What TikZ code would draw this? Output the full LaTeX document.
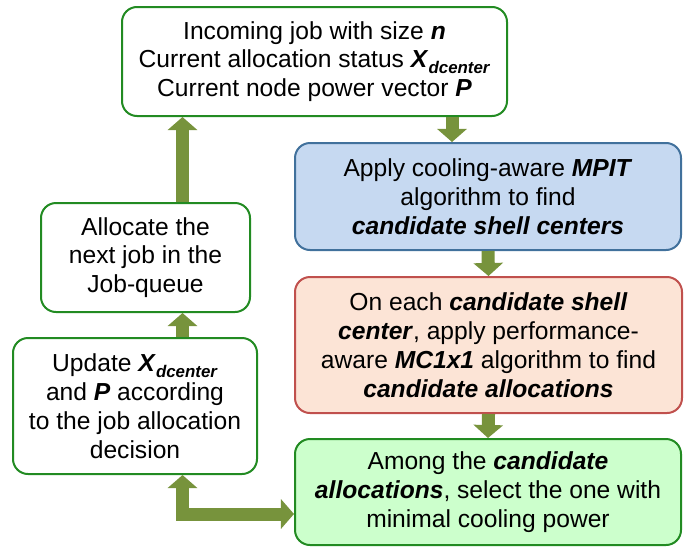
\documentclass[tikz,border=0pt]{standalone}
\usepackage{fontspec}
\setmainfont{Liberation Sans}
\usetikzlibrary{positioning}
\usetikzlibrary{arrows.meta}

\definecolor{boxgreen}{RGB}{34,139,34}
\definecolor{shaftgreen}{RGB}{119,147,60}
\definecolor{mpitfill}{RGB}{198,217,241}
\definecolor{mpitline}{RGB}{65,113,156}
\definecolor{mcfill}{RGB}{252,228,214}
\definecolor{mcline}{RGB}{192,80,77}
\definecolor{selfill}{RGB}{204,255,204}

\newlength{\px}
\setlength{\px}{0.025cm}
\newcommand{\bi}[1]{\textbf{\textit{#1}}}
\newcommand{\dsub}{\raisebox{-0.45ex}{\fontsize{12}{12}\selectfont\bi{dcenter}}}

\tikzset{
	stepbox/.style={draw=boxgreen, fill=white, line width=2\px, rounded corners=15\px, align=center, inner sep=0pt, font=\fontsize{17.5}{20.5}\selectfont},
	fat/.style={draw=shaftgreen, line width=9.25pt, line join=miter, -{Triangle[width=20.6pt,length=9.25pt]}},
}

\begin{document}
\begin{tikzpicture}[x=1\px, y=-1\px]
\useasboundingbox (0,0) rectangle (694,546);

%boxes
\node[stepbox, minimum width=385\px, minimum height=109\px] (job) at (314.5,61.5)
	{Incoming job with size \bi{n}\\ Current allocation status \bi{X}\dsub\\ Current node power vector \bi{P}};
\node[stepbox, draw=mpitline, fill=mpitfill, minimum width=386\px, minimum height=107\px] (mpit) at (488,196.5)
	{Apply cooling-aware \bi{MPIT}\\ algorithm to find\\ \bi{candidate shell centers}};
\node[stepbox, draw=mcline, fill=mcfill, minimum width=387\px, minimum height=136\px] (mc) at (488.5,345)
	{On each \bi{candidate shell}\\ \bi{center}, apply performance-\\ aware \bi{MC1x1} algorithm to find\\ \bi{candidate allocations}};
\node[stepbox, fill=selfill, minimum width=386\px, minimum height=106\px] (sel) at (488,492)
	{Among the \bi{candidate}\\ \bi{allocations}, select the one with\\ minimal cooling power};
\node[stepbox, minimum width=209\px, minimum height=109\px] (alloc) at (145.5,257.5)
	{Allocate the\\ next job in the\\ Job-queue};
\node[stepbox, minimum width=244\px, minimum height=136\px] (upd) at (135,406)
	{Update \bi{X}\dsub\\ and \bi{P} according\\ to the job allocation\\ decision};

%arrows
\coordinate (downcol) at (452,0);
\coordinate (upcol) at (182.5,0);
\coordinate (bend) at (182.5,514);
\draw[fat] (job.south -| downcol) -- (mpit.north -| downcol);
\draw[fat] (mpit.south) -- (mc.north);
\draw[fat] (mc.south) -- (sel.north);
\draw[fat] (upd.north -| upcol) -- (alloc.south -| upcol);
\draw[fat] (alloc.north -| upcol) -- (job.south -| upcol);
\draw[fat, {Triangle[width=20.6pt,length=9.25pt]}-{Triangle[width=20.6pt,length=9.25pt]}] (upd.south -| bend) -- (bend) -- (bend -| sel.west);

\end{tikzpicture}
\end{document}
